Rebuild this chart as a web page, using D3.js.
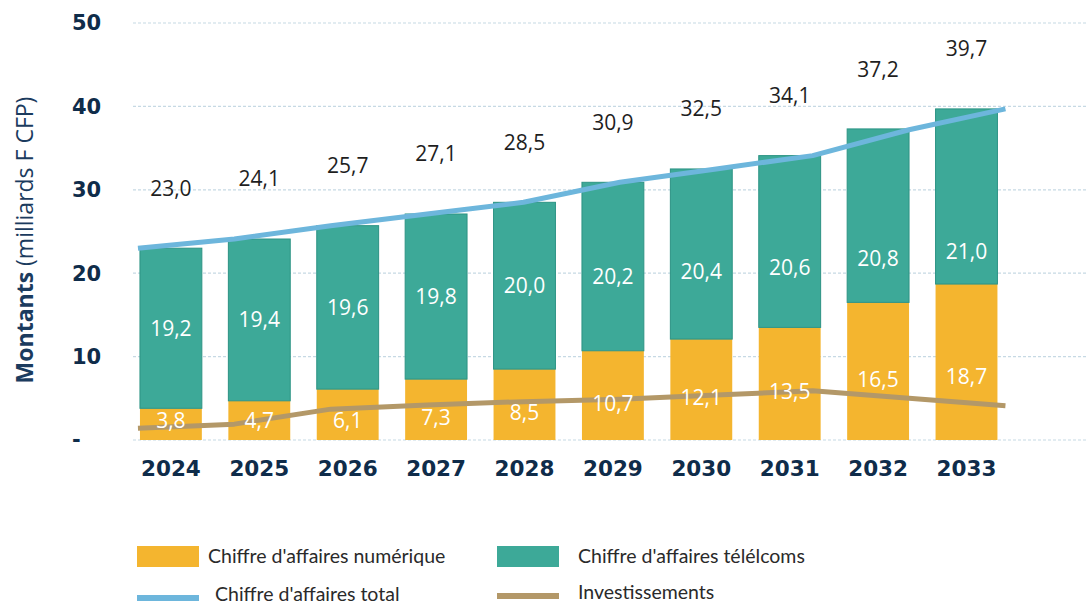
<!DOCTYPE html>
<html lang="fr">
<head>
<meta charset="UTF-8">
<title>Montants</title>
<script src="https://d3js.org/d3.v7.min.js"></script>
<style>
  body { margin: 0; background: #fff; }
  svg { display: block; }
</style>
</head>
<body>
<script>
// data
const years = ["2024", "2025", "2026", "2027", "2028", "2029", "2030", "2031", "2032", "2033"];
const numerique = [3.8, 4.7, 6.1, 7.3, 8.5, 10.7, 12.1, 13.5, 16.5, 18.7];
const telecoms = [19.2, 19.4, 19.6, 19.8, 20.0, 20.2, 20.4, 20.6, 20.8, 21.0];
const total = [23.0, 24.1, 25.7, 27.1, 28.5, 30.9, 32.5, 34.1, 37.2, 39.7];
const investissements = [1.4, 1.9, 3.7, 4.2, 4.6, 4.9, 5.4, 5.9, 5.0, 4.1];
const yTicks = [0, 10, 20, 30, 40, 50];
const yTickLabels = ["-", "10", "20", "30", "40", "50"];

const W = 1086, H = 606;
const colors = { num: "#f4b52f", tel: "#3da998", telEdge: "#2c9384", total: "#6db6dc", inv: "#b39868", navy: "#0f2c4a" };

const fr = d3.formatLocale({ decimal: ",", thousands: " ", grouping: [3], currency: ["", ""] });
const fmt = fr.format(".1f");

const svg = d3.select("body").append("svg")
    .attr("width", W)
    .attr("height", H);

const x = d3.scaleBand().domain(years).range([126.7, 1010.7]).paddingInner(0.3).paddingOuter(0.15);
const y = d3.scaleLinear().domain([0, 50]).range([440, 23]);

// gridlines
svg.append("g").selectAll("line")
    .data(yTicks)
  .enter().append("line")
    .attr("x1", 133).attr("x2", W)
    .attr("y1", d => y(d)).attr("y2", d => y(d))
    .attr("stroke", "#c6d9e4")
    .attr("stroke-width", 1.2)
    .attr("stroke-dasharray", "3,2");

// y tick labels
svg.append("g").selectAll("text")
    .data(yTicks)
  .enter().append("text")
    .attr("x", 72)
    .attr("y", d => y(d))
    .attr("dy", "0.35em")
    .style("font-family", "DejaVu Sans")
    .style("font-weight", "bold")
    .style("font-size", "21px")
    .attr("fill", colors.navy)
    .text((d, i) => yTickLabels[i]);

// y title
svg.append("text")
    .attr("transform", "translate(33,240) rotate(-90)")
    .attr("text-anchor", "middle")
    .style("font-family", "Open Sans")
    .style("font-size", "23px")
    .attr("fill", "#1b3b5e")
    .call(t => {
        t.append("tspan").style("font-weight", "bold").text("Montants ");
        t.append("tspan").text("(milliards F CFP)");
    });

// stacked bars
const table = years.map((yr, i) => ({ year: yr, num: numerique[i], tel: telecoms[i] }));
const stacked = d3.stack().keys(["num", "tel"])(table);

svg.append("g").selectAll("g")
    .data(stacked)
  .enter().append("g")
    .attr("fill", d => colors[d.key])
    .attr("stroke", d => d.key === "tel" ? colors.telEdge : "none")
    .attr("stroke-width", 1)
  .selectAll("rect")
    .data(d => d)
  .enter().append("rect")
    .attr("x", d => x(d.data.year))
    .attr("width", x.bandwidth())
    .attr("y", d => y(d[1]))
    .attr("height", d => y(d[0]) - y(d[1]));

// line x positions span from left edge of first bar to right edge of last bar
const xl = d3.scaleLinear().domain([0, years.length - 1])
    .range([x(years[0]) - 2, x(years[years.length - 1]) + x.bandwidth() + 8]);

const line = d3.line().x((d, i) => xl(i)).y(d => y(d));

svg.append("path")
    .datum(investissements)
    .attr("d", line)
    .attr("fill", "none")
    .attr("stroke", colors.inv)
    .attr("stroke-width", 5)
    .attr("stroke-linejoin", "round");

svg.append("path")
    .datum(total)
    .attr("d", line)
    .attr("fill", "none")
    .attr("stroke", colors.total)
    .attr("stroke-width", 5)
    .attr("stroke-linejoin", "round");

// labels
const cx = yr => x(yr) + x.bandwidth() / 2;
const lab = svg.append("g")
    .style("font-family", "Open Sans")
    .style("font-size", "21px")
    .attr("text-anchor", "middle");

lab.selectAll(".ln").data(numerique).enter().append("text")
    .attr("x", (d, i) => cx(years[i]))
    .attr("y", d => y(Math.max(2.3, Math.min(7.6, d / 2 - 1))))
    .attr("dy", "0.35em")
    .attr("fill", "#fff")
    .text(d => fmt(d));

lab.selectAll(".lt").data(telecoms).enter().append("text")
    .attr("x", (d, i) => cx(years[i]))
    .attr("y", (d, i) => {
        const c = numerique[i] + d / 2;
        return y(Math.min(c, 19 + (c - 19) * 0.35));
    })
    .attr("dy", "0.35em")
    .attr("fill", "#fff")
    .text(d => fmt(d));

lab.selectAll(".lg").data(total).enter().append("text")
    .attr("x", (d, i) => cx(years[i]))
    .attr("y", d => y(d) - 60)
    .attr("dy", "0.35em")
    .attr("fill", "#1e1e1e")
    .text(d => fmt(d));

// x axis labels
svg.append("g").selectAll("text")
    .data(years)
  .enter().append("text")
    .attr("x", d => cx(d))
    .attr("y", 468)
    .attr("dy", "0.35em")
    .attr("text-anchor", "middle")
    .style("font-family", "DejaVu Sans")
    .style("font-weight", "bold")
    .style("font-size", "21.5px")
    .attr("fill", colors.navy)
    .text(d => d);

// legend
const legend = [
    { label: "Chiffre d'affaires numérique", color: colors.num, sx: 137, sy: 546, sh: 21, tx: 208, ty: 556 },
    { label: "Chiffre d'affaires télélcoms", color: colors.tel, sx: 497, sy: 546, sh: 21, tx: 578, ty: 556 },
    { label: "Chiffre d'affaires total", color: colors.total, sx: 137, sy: 595, sh: 6, tx: 215, ty: 594 },
    { label: "Investissements", color: colors.inv, sx: 497, sy: 593, sh: 6, tx: 578, ty: 592 }
];
const lg = svg.append("g").selectAll("g").data(legend).enter().append("g");
lg.append("rect")
    .attr("x", d => d.sx).attr("y", d => d.sy)
    .attr("width", 62).attr("height", d => d.sh)
    .attr("fill", d => d.color);
lg.append("text")
    .attr("x", d => d.tx).attr("y", d => d.ty)
    .attr("dy", "0.35em")
    .style("font-family", "Lato")
    .style("font-size", "19.5px")
    .attr("fill", "#2a2a2a")
    .text(d => d.label);
</script>
</body>
</html>
